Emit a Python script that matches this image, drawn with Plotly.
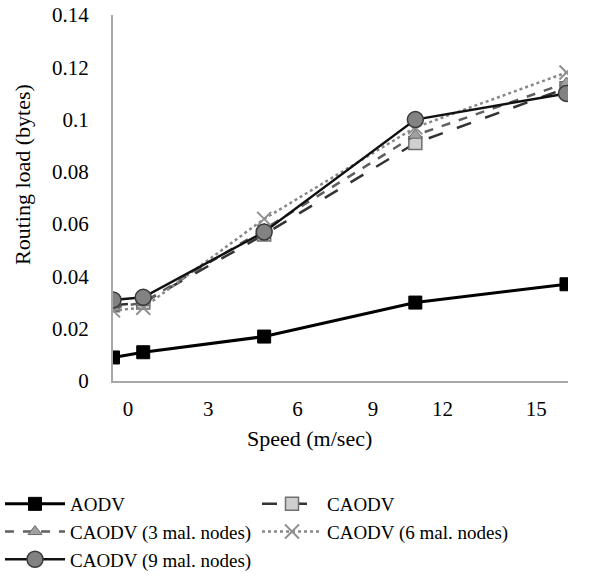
import plotly.graph_objects as go

speed = [0, 1, 5, 10, 15]
aodv = [0.009, 0.011, 0.017, 0.030, 0.037]
caodv = [0.029, 0.030, 0.056, 0.091, 0.112]
caodv3 = [0.028, 0.030, 0.058, 0.094, 0.114]
caodv6 = [0.027, 0.028, 0.062, 0.097, 0.118]
caodv9 = [0.031, 0.032, 0.057, 0.100, 0.110]

x_tick_pos = [0.5, 3.15, 6.1, 8.6, 10.9, 14.0]
x_tick_text = ["0", "3", "6", "9", "12", "15"]
y_ticks = [0, 0.02, 0.04, 0.06, 0.08, 0.1, 0.12, 0.14]
y_tick_text = ["0", "0.02", "0.04", "0.06", "0.08", "0.1", "0.12", "0.14"]

FONT = "Liberation Serif"

fig = go.Figure()
fig.add_trace(go.Scatter(x=speed, y=aodv, name="AODV", mode="lines+markers",
                         line=dict(color="#000000", width=3),
                         marker=dict(symbol="square", size=13, color="#000000",
                                     line=dict(color="#000000", width=1))))
fig.add_trace(go.Scatter(x=speed, y=caodv, name="CAODV", mode="lines+markers",
                         line=dict(color="#333333", width=2.5, dash="longdash"),
                         marker=dict(symbol="square", size=13, color="#cfcfcf",
                                     line=dict(color="#707070", width=1.5))))
fig.add_trace(go.Scatter(x=speed, y=caodv3, name="CAODV (3 mal. nodes)", mode="lines+markers",
                         line=dict(color="#606060", width=2.5, dash="dash"),
                         marker=dict(symbol="triangle-up", size=12, color="#a0a0a0",
                                     line=dict(color="#6a6a6a", width=1))))
fig.add_trace(go.Scatter(x=speed, y=caodv6, name="CAODV (6 mal. nodes)", mode="lines+markers",
                         line=dict(color="#888888", width=2.5, dash="dot"),
                         marker=dict(symbol="x-thin", size=14, color="#909090",
                                     line=dict(color="#909090", width=2))))
fig.add_trace(go.Scatter(x=speed, y=caodv9, name="CAODV (9 mal. nodes)", mode="lines+markers",
                         line=dict(color="#111111", width=2.5),
                         marker=dict(symbol="circle", size=16, color="#828282",
                                     line=dict(color="#3a3a3a", width=1.5))))

fig.update_layout(
    width=614, height=578,
    margin=dict(l=113, r=46, t=15, b=197, autoexpand=False),
    plot_bgcolor="white", paper_bgcolor="white",
    font=dict(family=FONT, size=21, color="#000000"),
    showlegend=True,
    legend=dict(orientation="h", x=-113 / 455, xanchor="left", xref="paper",
                y=-(485 - 381) / 366, yanchor="top", yref="paper",
                font=dict(family=FONT, size=19, color="#000000"),
                entrywidth=182, entrywidthmode="pixels", itemwidth=60,
                traceorder="normal", bgcolor="rgba(0,0,0,0)"),
    annotations=[
        dict(text="Speed (m/sec)", xref="paper", yref="paper", x=(309.5 - 113) / 455,
             y=-(438 - 381) / 366, xanchor="center", yanchor="middle", showarrow=False,
             font=dict(family=FONT, size=22)),
        dict(text="Routing load (bytes)", xref="paper", yref="paper", x=-(113 - 22) / 455,
             y=(381 - 175) / 366, xanchor="center", yanchor="middle", showarrow=False,
             textangle=-90, font=dict(family=FONT, size=22)),
    ],
)
fig.update_xaxes(range=[0, 15.05], tickvals=x_tick_pos, ticktext=x_tick_text,
                 showgrid=False, zeroline=False, showline=True, linecolor="#a8a8a8",
                 linewidth=2, ticks="", ticklabelstandoff=8,
                 tickfont=dict(family=FONT, size=21))
fig.update_yaxes(range=[0, 0.14], tickvals=y_ticks, ticktext=y_tick_text,
                 showgrid=False, zeroline=False, showline=True, linecolor="#a8a8a8",
                 linewidth=2, ticks="", ticklabelstandoff=18,
                 tickfont=dict(family=FONT, size=21))

fig.write_html("out.html")
